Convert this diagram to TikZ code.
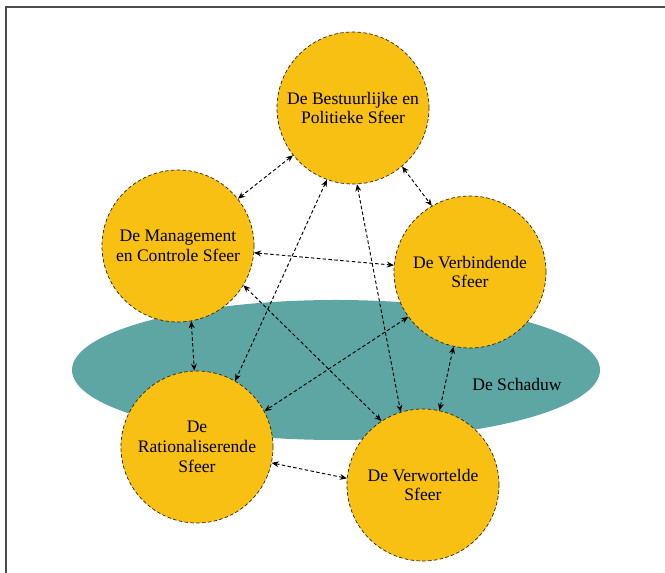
\documentclass[tikz,border=0pt]{standalone}
\usepackage{fontspec}
\setmainfont{Liberation Serif}
\usepackage{xcolor}
\usepackage{tikz}
\usetikzlibrary{shapes.geometric, arrows.meta}

\definecolor{sfeergeel}{HTML}{F8C012}
\definecolor{schaduwgroen}{HTML}{5DA6A4}

\begin{document}
\begin{tikzpicture}[
    x=0.03cm, y=-0.03cm,
    sphere/.style={
        circle,
        draw=black!85,
        densely dashed,
        semithick,
        fill=sfeergeel,
        text centered,
        align=center,
        minimum size=4.56cm,
        inner sep=0pt,
        font=\fontsize{15}{17}\selectfont
    },
    schaduwvlak/.style={
        ellipse,
        fill=schaduwgroen,
        minimum width=15.84cm,
        minimum height=4.2cm
    },
    link/.style={
        {Stealth[length=6pt,width=5pt]}-{Stealth[length=6pt,width=5pt]},
        densely dashed,
        line width=0.8pt
    }
]
\useasboundingbox (0,0) rectangle (665,573);

% frame
\draw[line width=1pt, black!70] (6,573) -- (6,7) -- (665,7);

% de schaduw
\node[schaduwvlak] (schaduw) at (336,370) {};
\node[font=\fontsize{15}{17}\selectfont] (schaduwtekst) at (517,384) {De Schaduw};

% de sferen
\node[sphere] (bestuur) at (353,108) {De Bestuurlijke en\\Politieke Sfeer};
\node[sphere] (management) at (178,246) {De Management\\en Controle Sfeer};
\node[sphere] (verbind) at (470,272) {De Verbindende\\Sfeer};
\node[sphere] (ratio) at (197,447) {De\\Rationaliserende\\Sfeer};
\node[sphere] (wortel) at (423,485) {De Verwortelde\\Sfeer};

% verbindingen
\draw[link] (bestuur) -- (management);
\draw[link] (bestuur.-50) -- (verbind.120);
\draw[link] (management) -- (verbind);
\draw[link] (management.-80) -- (ratio.92);
\draw[link] (verbind) -- (wortel);
\draw[link] (ratio.-12) -- (wortel.175);
\draw[link] (bestuur.250) -- (ratio.60);
\draw[link] (bestuur.-87) -- (wortel.107);
\draw[link] (management.-31) -- (wortel.123);
\draw[link] (verbind.216) -- (ratio.28);

\end{tikzpicture}
\end{document}
